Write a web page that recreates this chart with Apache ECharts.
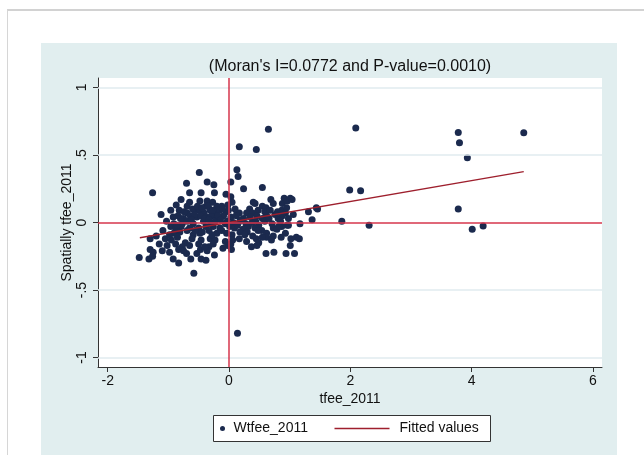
<!DOCTYPE html>
<html>
<head>
<meta charset="utf-8">
<script src="https://cdn.jsdelivr.net/npm/echarts@6/dist/echarts.min.js"></script>
<style>
html, body { margin: 0; padding: 0; background: #fff; }
#frame { position: absolute; left: 7px; top: 9px; width: 637px; height: 446px; border-top: 2px solid #d2d2d2; border-left: 1px solid #d6d6d6; }
#panel { position: absolute; left: 41px; top: 43px; width: 576px; height: 412px; background: #e1eeef; }
#main { position: absolute; left: 0; top: 0; width: 644px; height: 455px; }
</style>
</head>
<body>
<div id="frame"></div>
<div id="panel"></div>
<div id="main"></div>
<script>
// tfee_2011 (x) and spatially lagged Wtfee_2011 (y)
var tfee = [
  0.13,0.15,-0.49,-0.70,-0.36,-0.25,0.03,0.24,0.55,
  -1.26,-0.65,-0.46,-0.24,-0.05,0.03,-0.79,-0.48,-0.36,-0.27,0.40,0.69,0.91,1.01,0.55,
  -0.87,-0.69,-0.65,-0.38,-0.20,-0.12,-0.02,0.05,0.34,0.43,0.61,0.73,0.88,0.96,1.04,0.87,0.95,
  -1.12,-0.96,-0.82,-0.69,-0.55,-0.48,-0.41,-0.31,-0.23,-0.16,-0.05,-0.01,0.13,0.17,0.29,0.39,0.48,0.59,0.68,0.80,0.93,1.06,1.31,1.46,
  -0.84,-0.75,-0.64,-0.53,-0.47,-0.37,-0.29,-0.20,-0.09,0.03,0.12,0.24,0.35,0.46,0.55,0.62,0.81,0.88,0.98,1.17,1.37,
  -1.03,-0.91,-0.77,-0.69,-0.59,-0.42,-0.30,-0.23,-0.06,-0.03,0.07,0.18,0.28,0.38,0.49,0.59,0.71,0.85,0.96,
  -1.09,-0.96,-0.88,-0.79,-0.65,-0.50,-0.38,-0.26,-0.15,0.01,0.09,0.23,0.32,0.43,0.54,0.73,0.87,0.98,
  -0.91,-0.81,-0.69,-0.59,-0.48,-0.33,-0.20,-0.04,0.05,0.18,0.30,0.39,0.48,0.62,0.79,0.93,1.11,
  -1.30,-1.05,-0.95,-0.85,-0.72,-0.61,-0.46,-0.31,-0.23,-0.06,0.06,0.17,0.29,0.45,0.49,0.62,0.73,0.86,1.02,1.16,
  -1.02,-0.88,-0.77,-0.65,-0.50,-0.33,-0.26,-0.02,0.03,0.37,0.46,1.01,
  -1.30,-1.25,-1.10,-0.98,-0.83,-0.70,-0.53,-0.47,-0.36,-0.24,0.04,0.61,0.74,0.94,1.08,
  -1.48,-1.32,-1.26,-0.92,-0.83,-0.63,-0.46,-0.38,-0.58,
  -0.60,-0.57,-0.52,-0.44,-0.40,-0.34,-0.33,-0.27,-0.18,-0.14,-0.11,-0.62,-0.56,-0.44,-0.28,-0.12,-0.74,-0.80,-0.92,-0.86,
  0.10,0.20,0.14,0.26,0.44,0.66,0.76,0.82,0.70,0.55,-0.98,-1.15,-1.20,-0.75,-0.40,-0.10,
  0.65,0.17,0.45,0.14,1.86,1.99,2.17,2.09,2.31,3.78,3.80,3.93,3.78,4.01,4.19,4.86,1.44
];
var wtfee = [
  0.39,0.34,0.37,0.29,0.30,0.28,0.30,0.25,0.26,
  0.22,0.22,0.22,0.22,0.21,0.19,0.17,0.16,0.16,0.15,0.15,0.17,0.18,0.18,0.12,
  0.13,0.12,0.15,0.12,0.12,0.12,0.13,0.15,0.10,0.14,0.11,0.14,0.14,0.16,0.17,0.09,0.11,
  0.06,0.09,0.09,0.07,0.09,0.09,0.07,0.09,0.07,0.09,0.08,0.09,0.07,0.07,0.07,0.07,0.09,0.08,0.09,0.08,0.07,0.06,0.08,0.10,
  0.05,0.03,0.05,0.04,0.05,0.04,0.05,0.03,0.05,0.04,0.05,0.03,0.04,0.05,0.03,0.05,0.03,0.05,0.03,-0.01,0.02,
  0.01,-0.01,-0.01,0.01,-0.01,0.01,-0.01,0.01,-0.01,0.01,0.00,0.01,-0.01,0.00,-0.02,0.01,-0.01,0.01,-0.02,
  -0.06,-0.03,-0.04,-0.03,-0.04,-0.04,-0.03,-0.03,-0.04,-0.03,-0.04,-0.05,-0.03,-0.04,-0.06,-0.04,-0.03,-0.02,
  -0.08,-0.07,-0.06,-0.09,-0.08,-0.06,-0.08,-0.08,-0.09,-0.07,-0.07,-0.10,-0.06,-0.08,-0.05,-0.08,-0.11,
  -0.12,-0.12,-0.13,-0.11,-0.15,-0.12,-0.13,-0.12,-0.13,-0.14,-0.13,-0.12,-0.14,-0.12,-0.15,-0.11,-0.10,-0.11,-0.12,-0.12,
  -0.17,-0.16,-0.18,-0.17,-0.16,-0.18,-0.16,-0.17,-0.16,-0.18,-0.17,-0.17,
  -0.20,-0.22,-0.21,-0.22,-0.20,-0.23,-0.23,-0.20,-0.21,-0.24,-0.20,-0.23,-0.22,-0.23,-0.23,
  -0.26,-0.27,-0.25,-0.27,-0.30,-0.27,-0.27,-0.28,-0.375,
  0.10,0.06,0.12,0.11,0.03,0.12,0.02,0.09,0.05,0.02,0.10,0.02,-0.06,-0.07,-0.09,-0.06,0.08,0.03,0.04,-0.02,
  0.10,0.02,-0.02,-0.09,0.01,0.03,0.06,-0.03,-0.13,-0.11,-0.09,-0.16,-0.10,-0.21,-0.18,-0.19,
  0.69,0.56,0.54,-0.82,0.01,0.24,0.235,0.70,-0.02,0.667,0.59,0.48,0.10,-0.05,-0.025,0.664,0.11
];
// fitted values line end points
var fitX = [-1.47, 4.86];
var fitY = [-0.113, 0.377];
var xTicks = [-2, 0, 2, 4, 6];
var yTicks = [-1, -0.5, 0, 0.5, 1];

var font = "'Liberation Sans', Arial, Helvetica, sans-serif";
var dotColor = "#1b2a4e";
var refRed = "#d6364c";
var fitRed = "#9e1f2d";

var points = [];
for (var i = 0; i < tfee.length; i++) {
  points.push([tfee[i], wtfee[i]]);
}
var fitData = [];
for (var j = 0; j < fitX.length; j++) {
  fitData.push([fitX[j], fitY[j]]);
}

var chart = echarts.init(document.getElementById("main"));
var option = {
  animation: false,
  backgroundColor: "transparent",
  textStyle: { fontFamily: font },
  title: {
    text: "(Moran's I=0.0772 and P-value=0.0010)",
    left: 350,
    top: 59,
    padding: 0,
    textAlign: "center",
    textStyle: { fontFamily: font, fontSize: 16, fontWeight: "normal", color: "#111" }
  },
  grid: {
    left: 98, top: 78, width: 504, height: 289,
    show: true, backgroundColor: "#fff", borderWidth: 0
  },
  xAxis: {
    type: "value",
    min: -2.16, max: 6.15,
    name: "tfee_2011",
    nameLocation: "middle",
    nameGap: 25,
    nameMoveOverlap: false,
    nameTextStyle: { fontFamily: font, fontSize: 14, color: "#111" },
    axisLine: { show: true, onZero: false, lineStyle: { color: "#333", width: 1 } },
    axisTick: { show: true, length: 5, lineStyle: { color: "#333" }, customValues: xTicks },
    axisLabel: { fontFamily: font, fontSize: 14, color: "#111", margin: 7, customValues: xTicks },
    splitLine: { show: false }
  },
  yAxis: {
    type: "value",
    min: -1.07, max: 1.07,
    name: "Spatially tfee_2011",
    nameLocation: "middle",
    nameRotate: 90,
    nameGap: 24,
    nameMoveOverlap: false,
    nameTextStyle: { fontFamily: font, fontSize: 14, color: "#111" },
    axisLine: { show: true, onZero: false, lineStyle: { color: "#333", width: 1 } },
    axisTick: { show: true, length: 5, lineStyle: { color: "#333" }, customValues: yTicks },
    axisLabel: {
      fontFamily: font, fontSize: 14, color: "#111", margin: 9, rotate: 90,
      customValues: yTicks,
      formatter: function (v) { return String(v).replace("0.", "."); }
    },
    splitLine: { show: false }
  },
  series: [
    {
      // horizontal grid lines
      type: "scatter",
      data: [],
      z: 1,
      silent: true,
      markLine: {
        silent: true,
        symbol: "none",
        label: { show: false },
        lineStyle: { color: "#e0ebef", type: "solid", width: 1.5 },
        data: [{ yAxis: -1 }, { yAxis: -0.5 }, { yAxis: 0.5 }, { yAxis: 1 }]
      }
    },
    {
      // reference lines at zero
      type: "scatter",
      data: [],
      z: 2,
      silent: true,
      markLine: {
        silent: true,
        symbol: "none",
        label: { show: false },
        lineStyle: { color: refRed, type: "solid", width: 1.5 },
        data: [{ yAxis: 0 }, { xAxis: 0 }]
      }
    },
    {
      name: "Wtfee_2011",
      type: "scatter",
      z: 3,
      symbolSize: 7,
      itemStyle: { color: dotColor, opacity: 1 },
      data: points
    },
    {
      name: "Fitted values",
      type: "line",
      z: 4,
      showSymbol: false,
      lineStyle: { color: fitRed, width: 1.3 },
      data: fitData
    }
  ],
  graphic: [
    {
      type: "group",
      left: 213,
      top: 415,
      children: [
        { type: "rect", shape: { x: 0, y: 0, width: 277, height: 26 },
          style: { fill: "#fff", stroke: "#333", lineWidth: 1 } },
        { type: "circle", shape: { cx: 9, cy: 13, r: 2.5 }, style: { fill: dotColor } },
        { type: "text", x: 20, y: 13,
          style: { text: "Wtfee_2011", fontFamily: font, fontSize: 14, fill: "#111", verticalAlign: "middle" } },
        { type: "line", shape: { x1: 121, y1: 13, x2: 176, y2: 13 },
          style: { stroke: fitRed, lineWidth: 1.3 } },
        { type: "text", x: 186, y: 13,
          style: { text: "Fitted values", fontFamily: font, fontSize: 14, fill: "#111", verticalAlign: "middle" } }
      ]
    }
  ]
};
chart.setOption(option);
</script>
</body>
</html>
